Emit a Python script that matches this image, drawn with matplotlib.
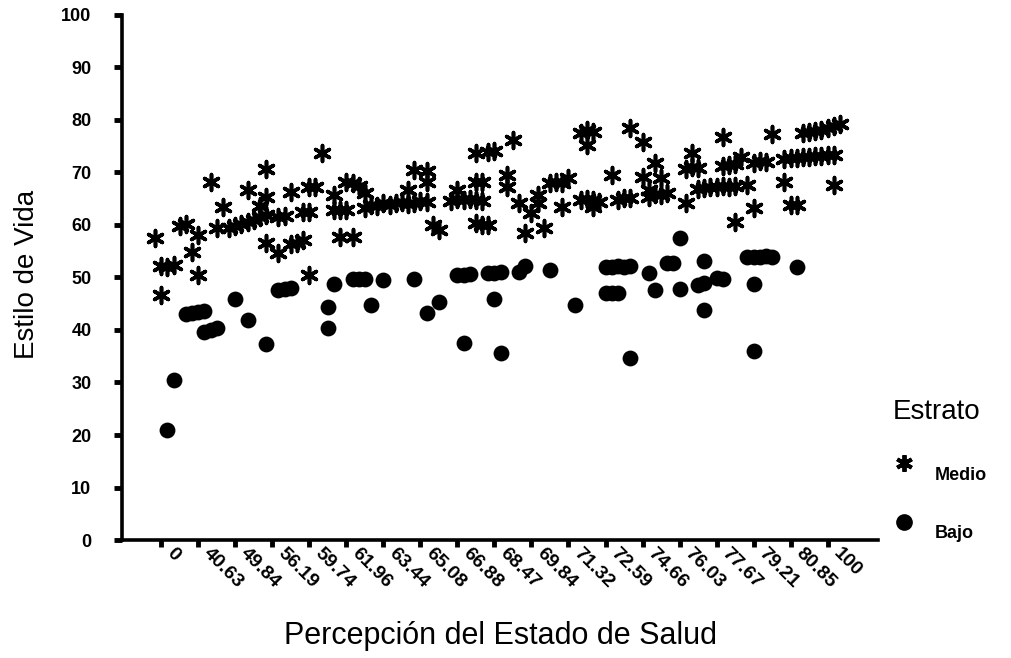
import matplotlib
matplotlib.use("Agg")
from matplotlib import pyplot as plt
from matplotlib.lines import Line2D
import matplotlib.transforms as mtransforms
import numpy as np

plt.rcParams['font.family'] = ['Liberation Sans', 'DejaVu Sans']

# x = category rank of "Percepción del Estado de Salud", y = Estilo de Vida
medio_x = [0, 1, 1, 2, 3, 4, 5, 7, 6, 7, 9, 11, 10,
           12, 13, 14, 15, 16, 17, 18,
           15, 18, 17, 18, 22, 20, 21, 24, 25, 18, 20, 22, 23, 24, 25,
           27, 25, 26, 29, 31, 32, 33, 34, 29, 30, 31,
           34, 35, 36, 37, 38, 39, 40, 41, 42, 43, 44,
           42, 44, 44, 41, 49, 46, 45, 30, 32,
           52, 52, 52, 48, 49, 50, 51, 52, 53,
           58, 69, 70, 71, 70, 77, 79, 54, 55, 57, 57, 53,
           59, 62, 61, 62, 64, 65, 66, 67, 66, 69, 70, 71, 72, 71, 74, 75, 76, 77, 79,
           53, 54, 60, 63,
           92, 100, 105, 106, 107, 108, 109, 110, 111,
           81, 87, 86, 87, 88, 92, 93, 94, 95, 97, 98, 99,
           102, 103, 104, 105, 106, 107, 108, 109, 110,
           82, 80, 80, 81, 82, 83, 86, 88, 89, 90, 91, 92, 93, 94, 96, 102, 110, 97, 94, 103, 104]
medio_y = [57.5, 46.7, 52.2, 52.0, 52.3, 59.8, 60.2, 58.1, 54.9, 50.5, 68.2, 63.4, 59.4,
           59.4, 59.8, 60.2, 60.6, 61.0, 61.5, 61.9,
           66.7, 65.3, 63.6, 70.7, 66.3, 61.5, 61.8, 62.5, 62.5, 56.6, 54.7, 56.4, 56.6, 57.1, 50.5,
           73.7, 67.2, 67.2, 65.7, 68.2, 67.9, 67.5, 66.1, 62.9, 62.9, 62.9,
           63.3, 63.8, 63.6, 64.1, 63.8, 64.1, 64.3, 63.9, 64.2, 64.5, 64.3,
           70.5, 70.3, 68.2, 66.7, 66.7, 59.0, 60.0, 57.7, 57.7,
           73.7, 68.2, 60.4, 64.6, 64.9, 64.7, 65.0, 64.8, 64.6,
           76.2, 77.5, 78.0, 77.8, 75.2, 78.5, 75.8, 73.9, 74.1, 69.5, 67.2, 68.2,
           64.2, 65.7, 62.3, 64.2, 68.0, 68.2, 67.9, 69.0, 63.4, 64.8, 65.0, 64.8, 64.4, 63.4, 69.5, 64.8, 65.2, 65.2, 69.1,
           60.0, 60.0, 58.5, 59.4,
           76.8, 77.3, 77.5, 77.7, 77.9, 78.1, 78.4, 78.8, 79.2,
           71.8, 73.7, 70.6, 71.0, 70.8, 71.2, 71.5, 71.7, 73.0, 71.8, 72.2, 72.0,
           72.6, 72.8, 72.7, 73.0, 72.9, 73.1, 73.2, 73.3, 73.4,
           69.0, 66.7, 65.4, 65.9, 65.7, 66.1, 64.2, 66.8, 67.1, 67.2, 67.2, 67.4, 67.2, 67.5, 67.6, 68.2, 67.6, 63.2, 60.6, 63.8, 63.8]

bajo_x = [2, 3, 5, 6, 7, 8, 8, 9, 10, 13, 15, 18, 20, 21, 22,
          29, 32, 33, 34, 37, 42, 49, 50, 51, 28, 28, 35, 46, 44, 50,
          54, 55, 56, 59, 60, 64, 73, 74, 75, 76, 77, 80, 55, 68, 73, 74, 75, 81, 56, 77,
          85, 83, 84, 89, 96, 97, 98, 99, 100, 104, 85, 88, 89, 91, 92, 97, 89, 97]
bajo_y = [21.0, 30.5, 43.0, 43.2, 43.4, 43.6, 39.6, 40.0, 40.4, 45.9, 41.9, 37.3, 47.6, 47.8, 48.0,
          48.8, 49.7, 49.7, 49.8, 49.5, 49.7, 50.5, 50.5, 50.6, 44.4, 40.4, 44.8, 45.3, 43.2, 37.5,
          50.9, 50.9, 51.0, 51.0, 52.2, 51.4, 52.0, 52.0, 52.2, 52.0, 52.2, 50.9, 45.9, 44.8, 47.0, 47.0, 47.1, 47.6, 35.6, 34.7,
          57.5, 52.8, 52.8, 53.1, 53.9, 53.9, 53.9, 54.0, 53.9, 52.0, 47.8, 48.6, 48.9, 49.9, 49.7, 48.8, 43.8, 36.0]

tick_labels = ["0", "40.63", "49.84", "56.19", "59.74", "61.96", "63.44", "65.08",
               "66.88", "68.47", "69.84", "71.32", "72.59", "74.66", "76.03",
               "77.67", "79.21", "80.85", "100"]

fig = plt.figure(figsize=(10.11, 6.58), dpi=100)
ax = fig.add_axes([0.1207, 0.1793, 0.748, 0.798])

# asterisk spokes + filled core for Medio, dots for Bajo
ax.scatter(medio_x, medio_y, marker=(6, 2, 0), s=130, c="black", linewidths=2.6)
ax.scatter(medio_x, medio_y, marker=(6, 1, 0), s=60, c="black", linewidths=0)
ax.scatter(bajo_x, bajo_y, marker="o", s=130, c="black", linewidths=0)

ax.set_xlim(-5.35, 117.2)
ax.set_ylim(0, 100)
ax.set_yticks(range(0, 101, 10))
ax.tick_params(axis="y", labelsize=13, length=6, width=3.5, direction="out", pad=16)
for t in ax.get_yticklabels():
    t.set_fontweight("bold")

tick_pos = np.arange(len(tick_labels)) * 6 + 1
ax.set_xticks(tick_pos)
ax.set_xticklabels(tick_labels, rotation=-45, ha="left", va="top",
                   rotation_mode="anchor", fontweight="bold", fontsize=14)
ax.tick_params(axis="x", length=5, width=3.5, direction="out", pad=2)
offset = mtransforms.ScaledTranslation(14 / 100, 5 / 100, fig.dpi_scale_trans)
for t in ax.get_xticklabels():
    t.set_transform(t.get_transform() + offset)

for s in ["top", "right"]:
    ax.spines[s].set_visible(False)
for s in ["left", "bottom"]:
    ax.spines[s].set_linewidth(2.6)

ax.set_ylabel("Estilo de Vida", fontsize=20)
ax.yaxis.set_label_coords(-0.108, 0.505)
ax.set_xlabel("Percepción del Estado de Salud", fontsize=22)
ax.xaxis.set_label_coords(0.5, -0.154)

# legend
h_medio = Line2D([], [], marker=(6, 2, 0), ls="none", color="black",
                 markersize=12, markeredgewidth=2.8)
h_bajo = Line2D([], [], marker="o", ls="none", color="black", markersize=11)
leg = fig.legend([h_medio, h_bajo], ["Medio", "Bajo"], title="Estrato",
                 loc="upper left", bbox_to_anchor=(870 / 1011, 1 - 383 / 658),
                 frameon=False, labelspacing=2.3, handletextpad=0.7,
                 prop={"weight": "bold", "size": 13},
                 title_fontproperties={"size": 20})
# markers sit a little above their labels, as in the original
lift = mtransforms.ScaledTranslation(0, 10 / 100, fig.dpi_scale_trans)
for h in leg.legend_handles:
    h.set_transform(h.get_transform() + lift)

plt.savefig("out.png", dpi=100)
